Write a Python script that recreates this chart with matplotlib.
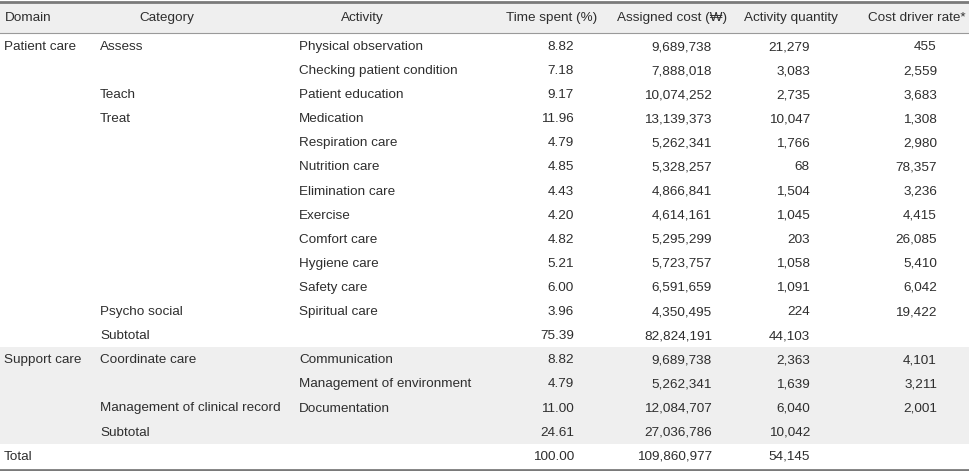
import matplotlib.pyplot as plt
from matplotlib.patches import Rectangle

plt.rcParams['font.family'] = ['Liberation Sans', 'Noto Sans CJK KR', 'DejaVu Sans']

headers = ["Domain", "Category", "Activity", "Time spent (%)", "Assigned cost (\u20a9)",
           "Activity quantity", "Cost driver rate*"]

domain = ["Patient care", "", "", "", "", "", "", "", "", "", "", "", "",
          "Support care", "", "", "", "Total"]
category = ["Assess", "", "Teach", "Treat", "", "", "", "", "", "", "", "Psycho social", "Subtotal",
            "Coordinate care", "", "Management of clinical record", "Subtotal", ""]
activity = ["Physical observation", "Checking patient condition", "Patient education", "Medication",
            "Respiration care", "Nutrition care", "Elimination care", "Exercise", "Comfort care",
            "Hygiene care", "Safety care", "Spiritual care", "",
            "Communication", "Management of environment", "Documentation", "", ""]
time_spent = ["8.82", "7.18", "9.17", "11.96", "4.79", "4.85", "4.43", "4.20", "4.82", "5.21",
              "6.00", "3.96", "75.39", "8.82", "4.79", "11.00", "24.61", "100.00"]
assigned_cost = ["9,689,738", "7,888,018", "10,074,252", "13,139,373", "5,262,341", "5,328,257",
                 "4,866,841", "4,614,161", "5,295,299", "5,723,757", "6,591,659", "4,350,495",
                 "82,824,191", "9,689,738", "5,262,341", "12,084,707", "27,036,786", "109,860,977"]
quantity = ["21,279", "3,083", "2,735", "10,047", "1,766", "68", "1,504", "1,045", "203", "1,058",
            "1,091", "224", "44,103", "2,363", "1,639", "6,040", "10,042", "54,145"]
rate = ["455", "2,559", "3,683", "1,308", "2,980", "78,357", "3,236", "4,415", "26,085", "5,410",
        "6,042", "19,422", "", "4,101", "3,211", "2,001", "", ""]

W, H = 970, 471
fig = plt.figure(figsize=(W / 100, H / 100), dpi=100)
ax = fig.add_axes([0, 0, 1, 1])
ax.set_xlim(0, W)
ax.set_ylim(H, 0)
ax.axis('off')

fs = 9.7
col = '#2e2e2e'
row_h = 24.1
y0 = 46

# header background and shaded block
ax.add_patch(Rectangle((0, 2), W, 31, color='#efefef', lw=0))
ax.add_patch(Rectangle((0, y0 + 12.5 * row_h), W, 4 * row_h, color='#efefef', lw=0))

ax.plot([0, W], [2, 2], color='#7a7a7a', lw=2)
ax.plot([0, W], [33, 33], color='#9a9a9a', lw=0.8)
ax.plot([0, W], [469.5, 469.5], color='#7a7a7a', lw=2)

# header
hx = [5, 167, 362, 552, 672, 791, 917]
has = ['left', 'center', 'center', 'center', 'center', 'center', 'center']
for x, ha, t in zip(hx, has, headers):
    ax.text(x, 18, t, ha=ha, va='center', fontsize=fs, color=col)

for i in range(len(domain)):
    y = y0 + 1 + i * row_h
    ax.text(4, y, domain[i], ha='left', va='center', fontsize=fs, color=col)
    ax.text(100, y, category[i], ha='left', va='center', fontsize=fs, color=col)
    ax.text(299, y, activity[i], ha='left', va='center', fontsize=fs, color=col)
    ax.text(574, y, time_spent[i], ha='right', va='center', fontsize=fs, color=col)
    ax.text(712, y, assigned_cost[i], ha='right', va='center', fontsize=fs, color=col)
    ax.text(810, y, quantity[i], ha='right', va='center', fontsize=fs, color=col)
    ax.text(937, y, rate[i], ha='right', va='center', fontsize=fs, color=col)

fig.savefig("out.png", dpi=100)
